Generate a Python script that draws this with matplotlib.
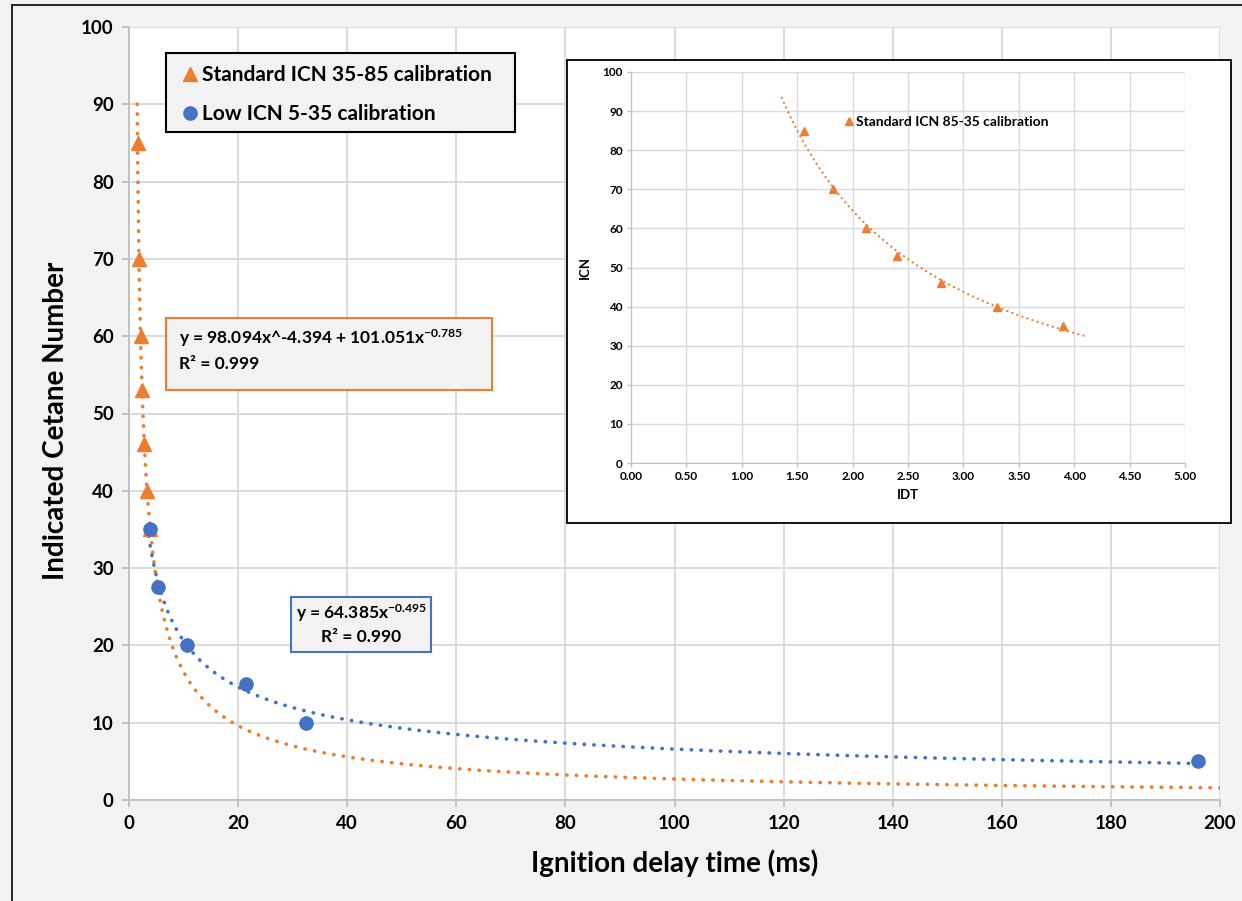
import numpy as np
import matplotlib
matplotlib.use("Agg")
import matplotlib.pyplot as plt
from matplotlib.patches import Rectangle
from matplotlib.lines import Line2D

plt.rcParams['font.family'] = ['Lato', 'DejaVu Sans']
plt.rcParams['font.weight'] = 'bold'
plt.rcParams['mathtext.fontset'] = 'custom'
plt.rcParams['mathtext.rm'] = 'Lato:bold'
plt.rcParams['mathtext.bf'] = 'Lato:bold'
plt.rcParams['mathtext.it'] = 'Lato:bold'

ORANGE = '#ED7D31'
BLUE = '#4472C4'
GRID = '#D9D9D9'
PANEL = '#F2F2F2'

# standard calibration (ICN 85-35)
std_idt = [1.56, 1.82, 2.12, 2.40, 2.80, 3.30, 3.90]
std_icn = [85, 70, 60, 53, 46, 40, 35]

# low calibration (ICN 35-5)
low_idt = [3.9, 5.4, 10.6, 21.4, 32.5, 196.0]
low_icn = [35, 27.5, 20, 15, 10, 5]

# trendline coefficients
std_a1, std_b1, std_a2, std_b2 = 98.094, -4.394, 101.051, -0.785
low_a, low_b = 64.385, -0.495

W, H = 1242, 901
fig = plt.figure(figsize=(W / 100, H / 100), dpi=100)
fig.patch.set_facecolor(PANEL)


def fx(px):
    return px / W


def fy(py):
    return 1 - py / H


# outer frame (left and top edges)
fig.add_artist(Line2D([fx(12), fx(12)], [0, fy(5)], color='black', lw=1.2))
fig.add_artist(Line2D([fx(12), 1], [fy(5), fy(5)], color='black', lw=1.2))

ax = fig.add_axes([fx(129), fy(800), fx(1220) - fx(129), fy(27) - fy(800)])
ax.set_facecolor('white')
for s in ['top', 'right']:
    ax.spines[s].set_visible(False)
for s in ['left', 'bottom']:
    ax.spines[s].set_color('#BFBFBF')
    ax.spines[s].set_linewidth(1.3)
ax.set_xlim(0, 200)
ax.set_ylim(0, 100)
ax.set_xticks(np.arange(0, 201, 20))
ax.set_yticks(np.arange(0, 101, 10))
ax.grid(True, color=GRID, lw=1.3)
ax.set_axisbelow(True)
ax.tick_params(length=5, width=1.3, color='#BFBFBF', labelsize=13.5, pad=6)
for lab in ax.get_xticklabels() + ax.get_yticklabels():
    lab.set_fontweight('bold')

dot = dict(linestyle=(0, (0.1, 2.6)), lw=2.6, dash_capstyle='round')

x_std = np.geomspace(1.5, 200, 2000)
ax.plot(x_std, std_a1 * x_std ** std_b1 + std_a2 * x_std ** std_b2,
        color=ORANGE, zorder=2, **dot)
x_low = np.geomspace(3.6, 197.5, 2000)
ax.plot(x_low, low_a * x_low ** low_b, color=BLUE, zorder=2, **dot)

ax.plot(std_idt, std_icn, '^', color=ORANGE, ms=10, zorder=3)
ax.plot(low_idt, low_icn, 'o', color=BLUE, ms=9.5, zorder=4)

ax.set_xlabel('Ignition delay time (ms)', fontsize=20, fontweight='bold', labelpad=12)
ax.set_ylabel('Indicated Cetane Number', fontsize=20, fontweight='bold')
ax.yaxis.set_label_coords(-0.055, 0.49)

# legend box
fig.add_artist(Rectangle((fx(166), fy(132)), fx(515) - fx(166), fy(53) - fy(132),
                         transform=fig.transFigure, facecolor=PANEL,
                         edgecolor='black', lw=1.5, zorder=5))
handles = [Line2D([], [], ls='none', marker='^', color=ORANGE, ms=10),
           Line2D([], [], ls='none', marker='o', color=BLUE, ms=9.5)]
leg = fig.legend(handles, ['Standard ICN 35-85 calibration', 'Low ICN 5-35 calibration'],
                 loc='upper left', bbox_to_anchor=(fx(182), fy(65)),
                 frameon=False, prop={'weight': 'bold', 'size': 15},
                 handlelength=0.8, handletextpad=0.15, labelspacing=0.92,
                 borderaxespad=0, borderpad=0)
leg.set_zorder(6)

# trendline equation boxes
fig.add_artist(Rectangle((fx(166), fy(390)), fx(492) - fx(166), fy(318) - fy(390),
                         transform=fig.transFigure, facecolor=PANEL,
                         edgecolor=ORANGE, lw=1.5, zorder=5))
fig.text(fx(179), fy(338), r'y = 98.094x^-4.394 + 101.051x$^{-0.785}$',
         fontsize=12.5, fontweight='bold', va='center', zorder=6)
fig.text(fx(179), fy(364), 'R² = 0.999', fontsize=12.5, fontweight='bold',
         va='center', zorder=6)

fig.add_artist(Rectangle((fx(291), fy(652)), fx(431) - fx(291), fy(597) - fy(652),
                         transform=fig.transFigure, facecolor=PANEL,
                         edgecolor=BLUE, lw=1.5, zorder=5))
fig.text(fx(361), fy(613), r'y = 64.385x$^{-0.495}$', fontsize=12.5,
         fontweight='bold', ha='center', va='center', zorder=6)
fig.text(fx(361), fy(637), 'R² = 0.990', fontsize=12.5, fontweight='bold',
         ha='center', va='center', zorder=6)

# inset: standard calibration on its own scale
fig.add_artist(Rectangle((fx(567), fy(523)), fx(1231) - fx(567), fy(60) - fy(523),
                         transform=fig.transFigure, facecolor='white',
                         edgecolor='black', lw=1.3, zorder=5))
ins = fig.add_axes([fx(631), fy(463), fx(1185) - fx(631), fy(72) - fy(463)])
ins.set_zorder(7)
ins.set_facecolor('none')
for s in ['top', 'right']:
    ins.spines[s].set_visible(False)
for s in ['left', 'bottom']:
    ins.spines[s].set_color('#BFBFBF')
ins.set_xlim(0, 5)
ins.set_ylim(0, 100)
ins.set_xticks(np.arange(0, 5.01, 0.5))
ins.set_yticks(np.arange(0, 101, 10))
ins.xaxis.set_major_formatter(matplotlib.ticker.FormatStrFormatter('%.2f'))
ins.grid(True, color=GRID, lw=1.0)
ins.set_axisbelow(True)
ins.tick_params(length=3, width=1.0, color='#BFBFBF', labelsize=8.5, pad=3)
for lab in ins.get_xticklabels() + ins.get_yticklabels():
    lab.set_fontweight('bold')
ins.set_xlabel('IDT', fontsize=9.5, fontweight='bold', labelpad=5)
ins.set_ylabel('ICN', fontsize=9.5, fontweight='bold', labelpad=8)

# power trendline fitted in log-log space
p_b, p_lna = np.polyfit(np.log(std_idt), np.log(std_icn), 1)
x_ins = np.linspace(1.36, 4.1, 500)
ins.plot(x_ins, np.exp(p_lna) * x_ins ** p_b, color=ORANGE,
         linestyle=(0, (0.1, 2.3)), lw=1.6, dash_capstyle='round')
ins.plot(std_idt, std_icn, '^', color=ORANGE, ms=6)
ins.legend([Line2D([], [], ls='none', marker='^', color=ORANGE, ms=6)],
           ['Standard ICN 85-35 calibration'], loc='center left',
           bbox_to_anchor=(fx(845), fy(122)), bbox_transform=fig.transFigure,
           frameon=False, prop={'weight': 'bold', 'size': 10}, handlelength=0.6,
           handletextpad=0.2, borderaxespad=0, borderpad=0)

fig.savefig('out.png', dpi=100, facecolor=fig.get_facecolor())
